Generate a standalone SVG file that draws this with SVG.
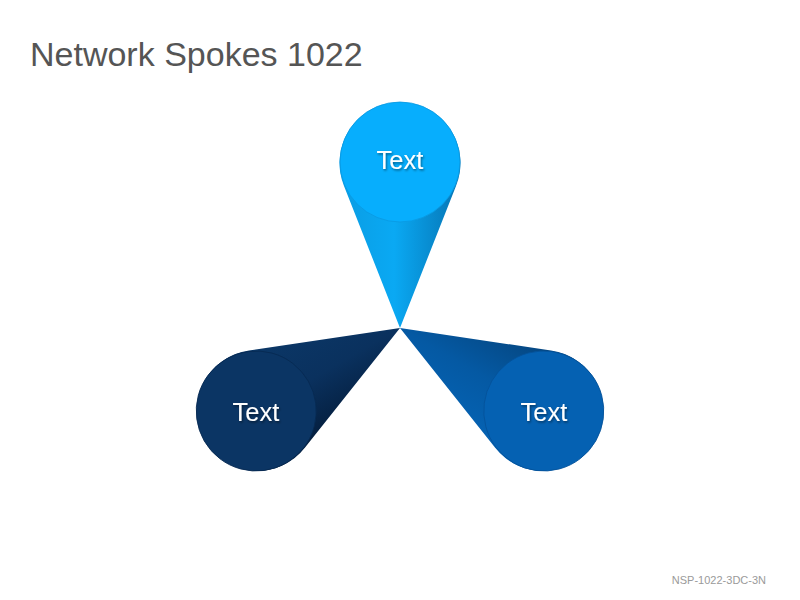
<svg xmlns="http://www.w3.org/2000/svg" width="800" height="600" viewBox="0 0 800 600">
  <style>
    .title { font-family: "Liberation Sans", Arial, sans-serif; font-size: 34px; fill: #555555; }
    .foot { font-family: "Liberation Sans", Arial, sans-serif; font-size: 11px; fill: #9a9a9a; }
    .lbl { font-family: "Liberation Sans", Arial, sans-serif; font-size: 25.5px; fill: #ffffff; text-anchor: middle; filter: url(#sh); }
  </style>
  <defs>
    <filter id="sh" x="-20%" y="-20%" width="140%" height="160%">
      <feDropShadow dx="1" dy="1.5" stdDeviation="1" flood-color="#000000" flood-opacity="0.45"/>
    </filter>
    <linearGradient id="gTop" gradientUnits="userSpaceOnUse" x1="342" y1="0" x2="458" y2="0">
      <stop offset="0" stop-color="#0A9DE4"/>
      <stop offset="0.45" stop-color="#0AA9F3"/>
      <stop offset="1" stop-color="#0676B6"/>
    </linearGradient>
    <linearGradient id="gBL" gradientUnits="userSpaceOnUse" x1="342" y1="0" x2="458" y2="0">
      <stop offset="0" stop-color="#041D3C"/>
      <stop offset="0.5" stop-color="#0A315E"/>
      <stop offset="1" stop-color="#0B3767"/>
    </linearGradient>
    <linearGradient id="gBR" gradientUnits="userSpaceOnUse" x1="342" y1="0" x2="458" y2="0">
      <stop offset="0" stop-color="#054680"/>
      <stop offset="0.5" stop-color="#0559A3"/>
      <stop offset="1" stop-color="#0563B4"/>
    </linearGradient>
    <path id="cone" d="M400,328 L344,186 A60.5,60.5 0 1 1 456,186 Z"/>
  </defs>

  <text class="title" x="30" y="66">Network Spokes 1022</text>

  <g id="connectors"></g>

  <g id="node-top">
    <use href="#cone" fill="url(#gTop)"/>
    <circle cx="400" cy="162" r="60" fill="#07AEFD" stroke="#0A98E0" stroke-width="0.8"/>
    <text class="lbl" x="400" y="169">Text</text>
  </g>

  <g id="node-bottom-left">
    <g transform="rotate(-120 400 328)">
      <use href="#cone" fill="url(#gBL)"/>
      <circle cx="400" cy="162" r="60" fill="#0B3564" stroke="#072a52" stroke-width="0.8"/>
    </g>
    <text class="lbl" x="256" y="421">Text</text>
  </g>

  <g id="node-bottom-right">
    <g transform="rotate(120 400 328)">
      <use href="#cone" fill="url(#gBR)"/>
      <circle cx="400" cy="162" r="60" fill="#0561B2" stroke="#05529a" stroke-width="0.8"/>
    </g>
    <text class="lbl" x="544" y="421">Text</text>
  </g>

  <text class="foot" x="766" y="584" text-anchor="end">NSP-1022-3DC-3N</text>
</svg>
